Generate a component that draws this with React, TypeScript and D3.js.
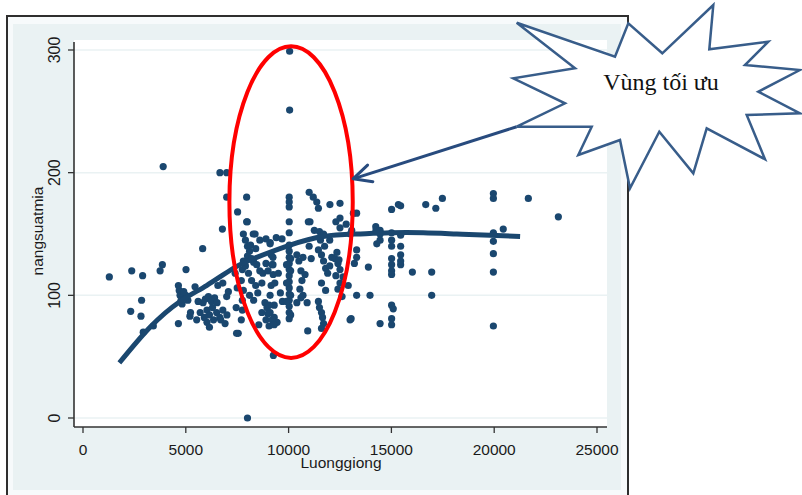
import React from "react";
import * as d3 from "d3";

// ---- Data ----
const observations: [number, number][] = [
  [1280,115],[2370,120],[2900,116],[3750,120],[3860,125],[3900,205],[5010,121],[5820,138],[6780,154],
  [6660,200],[6990,200],[6990,180],[7960,180],[7520,168],[7960,160],[2850,96],[2320,87],[2820,83],
  [2930,70],[3420,75],[8000,0],[10050,299],[10050,251],[9260,51],
  [4640,108],[4680,104],[4720,100],[4770,96],[4820,93],[4640,77],[5200,83],[5230,86],[5530,80],
  [5450,107],[5000,100],[5100,96],[4900,103],
  [5840,94],[5950,97],[6100,99],[6250,95],[6400,98],[6520,94],[6030,88],[6150,84],[6300,90],[6500,86],
  [6650,82],[6800,88],[6030,78],[6150,74],[6700,80],[7000,84],[6910,77],[6990,99],[7070,103],[6560,108],
  [6800,110],[5700,86],[5900,82],[6350,80],[5600,95],
  [7550,69],[7700,80],[7750,88],[7750,96],[7800,104],[7700,112],[7750,121],[7800,128],[7400,118],
  [7500,106],[7450,90],
  [7800,150],[8280,150],[7990,160],[7900,145],[8000,140],[8100,136],[8000,132],[8200,130],[8300,127],
  [8450,125],[8600,120],[8750,118],[8150,141],[8400,138],[8600,145],[8900,146],[9100,143],[9400,147],
  [9680,146],[8370,150],[7900,124],[8050,118],[8200,112],[8400,108],[8100,100],[8300,96],[8500,102],
  [8700,110],[8900,126],[9240,131],[9240,125],[9000,120],
  [8850,94],[8950,90],[9100,86],[9300,82],[9440,78],[8900,80],[9050,75],[9300,92],[8700,86],[8550,76],
  [7470,69],
  [9100,142],[9150,133],[9200,125],[9250,117],[9150,108],[9100,100],[9050,92],[9000,85],[9200,80],
  [9300,76],[9330,110],[9500,118],[9600,102],[9700,95],
  [10030,180],[10030,176],[10030,172],[10030,160],[10030,151],[10030,141],[10030,136],[10030,131],
  [10030,126],[10030,121],[10030,116],[10030,111],[10030,106],[10030,101],[10030,96],[10030,91],
  [10030,86],[10030,81],[10100,84],[10100,100],[10100,120],[10100,130],[9900,110],[9900,125],[9900,95],
  [10400,133],[10500,128],[10700,131],[10600,120],[10650,112],[10550,105],[10700,100],[10900,94],
  [10800,117],[10400,94],[10600,98],[11040,160],[10930,71],[10960,160],[11000,184],[11200,180],
  [11370,176],[11450,171],[11250,153],[11500,152],[11700,150],[11000,140],[11100,130],
  [11450,137],[11600,133],[11700,128],[11800,122],[11900,118],[12000,124],[12100,131],[12250,130],
  [12400,126],[12500,121],[12300,116],[12500,110],[12400,105],[12650,115],[11600,110],[11800,104],
  [11550,145],[11750,140],[12000,145],[11450,95],[11500,90],[11600,86],[11650,82],[11700,77],[11600,73],
  [12010,174],[12500,175],[12500,163],[12500,155],[12300,160],[12800,158],[13000,150],[13150,167],
  [13070,153],[12350,135],[12450,129],[12600,99],[12900,108],[12990,80],[13040,81],[13310,100],
  [13310,137],[13310,131],[13200,126],[13310,167],
  [14240,156],[14450,153],[14290,142],[14250,153],[13960,100],[13880,123],[14450,77],[14450,150],[14450,145],
  [15010,170],[15450,173],[16670,174],[17160,171],[17480,179],[15010,151],[15010,145],[15010,140],
  [15010,130],[15010,125],[15010,120],[15010,117],[15450,149],[15450,140],[15450,133],[15450,125],
  [15450,128],[16020,119],[16960,119],[16960,100],[15010,92],[15090,89],[15010,81],[15010,76],[15340,174],
  [19960,183],[19960,179],[21660,179],[23120,164],[20440,154],[19960,151],[19960,144],[19960,134],
  [19960,119],[19960,75],
];

const fitLine: [number, number][] = [
  [1770,45],[3260,74],[4720,95],[6010,108],[7310,122],[8450,131],[10070,141],[11690,148],
  [13310,150],[14930,151],[16550,151],[18180,150],[19800,149],[21260,148],
];

const xTicks = [0, 5000, 10000, 15000, 20000, 25000];
const yTicks = [0, 100, 200, 300];
const xTitle = "Luonggiong";
const yTitle = "nangsuatmia";
const calloutText = "Vùng tối ưu";
const optimalZone = { cx: 10120, cy: 176, rx: 3000, ry: 127 };

// callout star outline (annotation, page pixels)
const starOutline: [number, number][] = [
  [516.7,22.7],[615,56.7],[628.3,23.3],[662.3,53.3],[713.3,5],[709.3,49.3],[768.3,41.7],[745,65],
  [800,70],[758.3,91.7],[800,113.3],[746.7,115],[765,159.3],[706.7,128.3],[693.3,173.3],[659.3,131.7],
  [630,188.3],[620,140],[578.3,155],[591.7,126.7],[516.7,126.7],[565,103.3],[513.3,78.3],[575,68.3],
];
const arrowFrom: [number, number] = [516.7, 126.7];

const NAVY = "#1a476f";
const BG = "#eaf2f3";
const FONT = "'Liberation Sans', Arial, sans-serif";

export default function App() {
  const x = d3.scaleLinear().domain([0, 25000]).range([83, 597]);
  const y = d3.scaleLinear().domain([0, 300]).range([418, 50]);

  const plotLeft = 74, plotRight = 607, plotTop = 40, plotBottom = 427;

  const line = d3
    .line<[number, number]>()
    .x((d) => x(d[0]))
    .y((d) => y(d[1]))
    .curve(d3.curveNatural);

  const ex = x(optimalZone.cx);
  const ey = y(optimalZone.cy);
  const erx = x(optimalZone.cx + optimalZone.rx) - ex;
  const ery = ey - y(optimalZone.cy + optimalZone.ry);

  const tipAngle = -0.15;
  const tip: [number, number] = [ex + erx * Math.cos(tipAngle) + 1, ey + ery * Math.sin(tipAngle)];
  const ang = Math.atan2(arrowFrom[1] - tip[1], arrowFrom[0] - tip[0]);
  const headLen = 20;
  const w1: [number, number] = [tip[0] + headLen * Math.cos(ang - 0.45), tip[1] + headLen * Math.sin(ang - 0.45)];
  const w2: [number, number] = [tip[0] + headLen * Math.cos(ang + 0.45), tip[1] + headLen * Math.sin(ang + 0.45)];

  return (
    <svg
      width={802}
      height={495}
      style={{ position: "absolute", left: 0, top: 0, background: "#fff" }}
      xmlns="http://www.w3.org/2000/svg"
    >
      <rect x={7} y={16} width={621} height={490} fill="#f7fafb" stroke="#2e2e2e" strokeWidth={2} />
      <rect x={13} y={24} width={608} height={466} fill={BG} />
      <rect x={plotLeft} y={plotTop} width={plotRight - plotLeft} height={plotBottom - plotTop} fill="#fff" />
      {yTicks.map((t) => (
        <line key={"g" + t} x1={plotLeft} x2={plotRight} y1={y(t)} y2={y(t)} stroke={BG} strokeWidth={1.5} />
      ))}
      <line x1={plotLeft} x2={plotLeft} y1={42} y2={plotBottom} stroke="#333" strokeWidth={1.6} />
      <line x1={plotLeft} x2={plotRight} y1={plotBottom} y2={plotBottom} stroke="#333" strokeWidth={1.6} />
      {yTicks.map((t) => (
        <g key={"yt" + t}>
          <line x1={plotLeft - 6} x2={plotLeft} y1={y(t)} y2={y(t)} stroke="#333" strokeWidth={1.3} />
          <text
            transform={`translate(${plotLeft - 14},${y(t)}) rotate(-90)`}
            textAnchor="middle"
            fontFamily={FONT}
            fontSize={16}
            fill="#1a1a1a"
          >
            {t}
          </text>
        </g>
      ))}
      {xTicks.map((t) => (
        <g key={"xt" + t}>
          <line x1={x(t)} x2={x(t)} y1={plotBottom} y2={plotBottom + 6} stroke="#333" strokeWidth={1.3} />
          <text x={x(t)} y={455} textAnchor="middle" fontFamily={FONT} fontSize={15.5} fill="#1a1a1a">
            {t}
          </text>
        </g>
      ))}
      <text x={341} y={468} textAnchor="middle" fontFamily={FONT} fontSize={15.5} fill="#1a1a1a">
        {xTitle}
      </text>
      <text
        transform={`translate(43,231) rotate(-90)`}
        textAnchor="middle"
        fontFamily={FONT}
        fontSize={15.5}
        fill="#1a1a1a"
      >
        {yTitle}
      </text>

      {observations.map((d, i) => (
        <circle key={i} cx={x(d[0])} cy={y(d[1])} r={3.6} fill={NAVY} />
      ))}
      <path d={line(fitLine) || ""} fill="none" stroke={NAVY} strokeWidth={5} />

      <ellipse cx={ex} cy={ey} rx={erx} ry={ery} fill="none" stroke="#ff0000" strokeWidth={4} />

      <line x1={arrowFrom[0]} y1={arrowFrom[1]} x2={tip[0]} y2={tip[1]} stroke="#284b7e" strokeWidth={3} />
      <polyline
        points={`${w1[0]},${w1[1]} ${tip[0]},${tip[1]} ${w2[0]},${w2[1]}`}
        fill="none"
        stroke="#284b7e"
        strokeWidth={3}
        strokeLinejoin="round"
        strokeLinecap="round"
      />

      <polygon
        points={starOutline.map((p) => p.join(",")).join(" ")}
        fill="#fff"
        stroke="#385d8a"
        strokeWidth={2.5}
        strokeLinejoin="miter"
      />
      <text x={661} y={90} textAnchor="middle" fontFamily="'Liberation Serif', 'Times New Roman', serif" fontSize={24} fill="#111">
        {calloutText}
      </text>
    </svg>
  );
}
